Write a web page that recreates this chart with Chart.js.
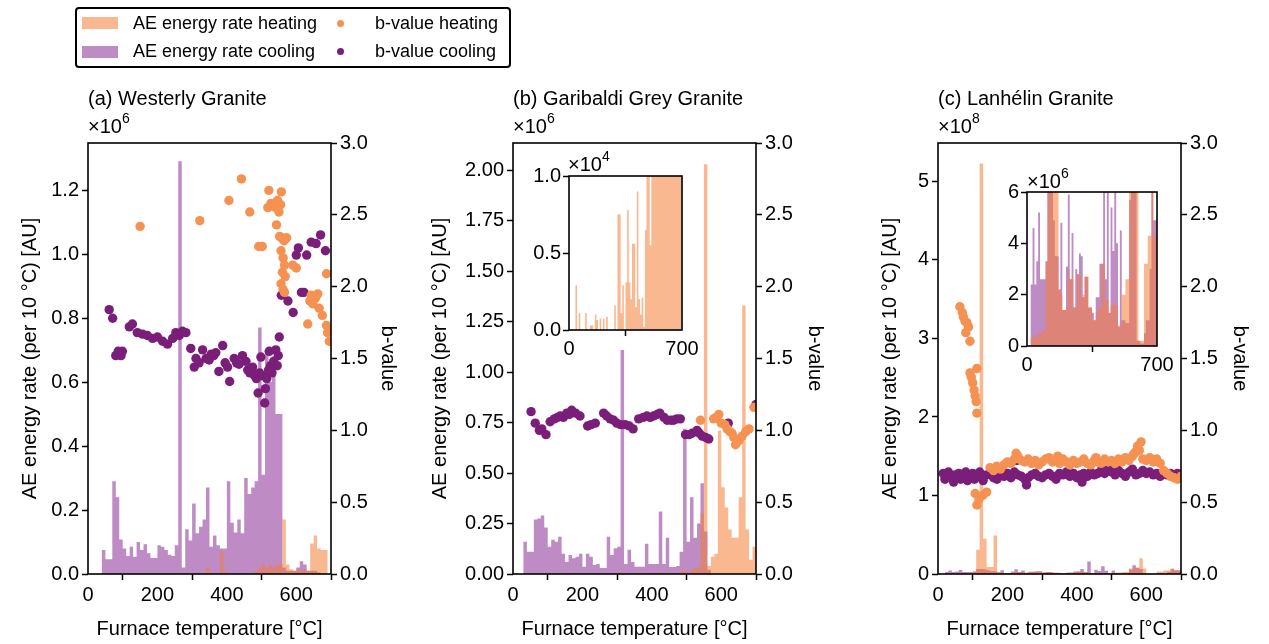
<!DOCTYPE html>
<html><head><meta charset="utf-8">
<script src="https://cdn.jsdelivr.net/npm/chart.js@4/dist/chart.umd.min.js"></script>
<style>
html,body{margin:0;padding:0;background:#fff;width:1269px;height:644px;overflow:hidden;font-family:"Liberation Sans",Arial,sans-serif;}
canvas{position:absolute;}
.t{position:absolute;white-space:nowrap;color:#000;font-size:20px;line-height:20px;}
.t sup{font-size:14px;line-height:0;position:relative;top:-2px;}
#legend{position:absolute;left:75px;top:7px;width:432px;height:57px;border:2px solid #000;border-radius:4px;}
.patch{position:absolute;width:36px;height:12px;}
.dot{position:absolute;width:7px;height:7px;border-radius:50%;}
.lt{position:absolute;white-space:nowrap;font-size:18px;line-height:18px;color:#000;}
</style></head><body>
<script>
// ---------- data ----------
const bins = Array.from({length:70},(_,i)=>i*10);          // histogram bin starts [°C], 10 °C wide
const xTicks = [0,200,400,600];
const insetXTicks = [0,700];
const bTicks = [0,0.5,1.0,1.5,2.0,2.5,3.0];

// (a) Westerly Granite, AE energy rate in units of 1e6 AU
const aCool = [0,0,0,0,0.075,0.046,0.046,0.29,0.24,0.108,
 0.08,0.056,0.085,0.054,0.10,0.075,0.093,0.065,0.05,0.05,
 0.09,0.085,0.075,0.06,0.056,0.09,1.29,0.02,0.14,0.105,
 0.22,0.127,0.148,0.17,0.27,0.085,0.12,0.09,0.08,0.08,
 0.29,0.16,0.13,0.17,0.127,0.30,0.25,0.27,0.29,0.77,
 0.31,0.70,0.60,0.68,0.50,0.50,0.02,0.01,0.01,0.01,
 0.02,0.04,0.03,0.01,0.01,0.01,0.005,0,0,0];
const aHeat = [0,0,0,0,0,0,0,0,0,0,
 0,0,0,0,0,0,0,0,0,0,
 0,0,0,0,0,0,0,0,0,0,
 0,0,0,0,0.02,0,0,0,0.07,0.01,
 0,0,0,0,0,0,0,0,0.01,0.02,
 0.03,0.02,0.03,0.02,0.03,0.03,0.17,0.03,0.015,0.01,
 0.015,0.01,0.015,0.01,0.095,0.12,0.08,0.075,0.075,0];
const aHeatT = [150,322,406,442,466,492,502,518,521,527,532,537,542,546,550,555,557,543,552,558,565,572,556,562,566,560,568,556,562,566,590,600,633,639,643,648,655,662,666,675,687,687,690,695,698];
const aHeatB = [2.42,2.46,2.60,2.75,2.52,2.28,2.28,2.55,2.67,2.58,2.56,2.58,2.55,2.60,2.52,2.57,2.66,2.43,2.35,2.34,2.32,2.34,2.25,2.20,2.15,2.10,2.07,2.02,1.98,1.96,2.15,2.13,1.74,1.90,1.94,1.88,1.92,1.95,1.85,1.80,2.09,1.73,1.68,1.62,1.70];
const aCoolT = [61,71,80,87,95,99,119,128,142,157,171,186,200,215,229,244,253,263,272,282,296,306,311,320,330,340,349,355,362,368,377,388,395,402,408,421,428,435,445,455,460,466,474,480,485,490,494,498,503,509,511,515,520,522,526,530,535,541,545,548,551,557,576,591,600,606,615,622,630,643,657,670,684];
const aCoolB = [1.84,1.78,1.52,1.55,1.52,1.55,1.72,1.74,1.68,1.67,1.66,1.64,1.65,1.62,1.60,1.64,1.68,1.66,1.69,1.68,1.57,1.44,1.50,1.47,1.56,1.50,1.49,1.53,1.52,1.54,1.41,1.59,1.47,1.44,1.34,1.50,1.47,1.46,1.52,1.48,1.42,1.40,1.44,1.38,1.36,1.26,1.40,1.51,1.38,1.19,1.29,1.36,1.42,1.55,1.45,1.40,1.48,1.56,1.45,1.52,1.65,1.94,1.90,1.82,2.22,2.27,1.96,1.96,2.22,2.31,2.30,2.36,2.25];

// (b) Garibaldi Grey Granite, units of 1e6 AU
const bCool = [0,0,0,0.16,0.11,0.11,0.27,0.275,0.29,0.23,
 0.135,0.17,0.16,0.185,0.10,0.06,0.094,0.078,0.086,0.10,
 0.036,0.10,0.086,0.045,0.05,0.03,0.03,0.185,0.094,0.127,
 0.135,1.11,0.05,0.12,0.06,0.036,0.036,0.036,0.15,0.05,
 0.05,0.05,0.31,0.05,0.18,0.035,0.035,0.04,0.11,0.72,
 0.16,0.38,0.18,0.25,0.45,0.21,0.02,0,0,0,
 0,0,0,0,0,0,0,0,0,0];
const bHeat = [0,0,0,0,0.0029,0,0.0011,0,0,0,
 0.0011,0,0,0.0003,0.0003,0,0.0010,0.00065,0,0.00075,
 0,0.00075,0,0.00086,0,0,0,0,0.0016,0,
 0.0075,0.0075,0.0011,0.0029,0,0.0031,0.0078,0.0031,0.0020,0.0056,
 0.0056,0.0015,0.0090,0.0020,0.0010,0.0021,0.0002,0.0065,0.012,0.015,
 0.0055,0.02,0.03,0.035,0.30,2.03,0.04,0.085,0.10,0.71,
 0.43,0.33,0.22,0.18,0.18,0.38,1.33,0.22,0.07,0.135];
const bCoolT = [52,64,76,83,95,107,119,128,136,145,155,162,169,180,193,215,225,237,261,270,280,290,299,310,323,335,346,362,375,386,395,405,415,423,435,444,455,463,472,482,497,507,516,530,537,545,555,564,620,700];
const bCoolB = [1.13,1.05,1.00,1.01,0.97,1.06,1.08,1.09,1.10,1.09,1.12,1.11,1.14,1.12,1.10,1.03,1.04,1.05,1.12,1.10,1.08,1.07,1.05,1.04,1.04,1.03,1.01,1.08,1.09,1.10,1.09,1.10,1.11,1.12,1.09,1.07,1.07,1.07,1.08,1.08,0.97,0.97,0.98,1.00,0.98,0.96,0.95,0.94,1.05,1.18];
const bHeatT = [540,578,585,593,600,610,617,625,631,636,641,646,651,660,670,680,694];
const bHeatB = [1.07,1.08,1.09,1.11,1.05,1.04,1.01,0.99,0.98,0.95,0.90,0.92,0.93,0.96,0.99,1.01,1.16];

// (c) Lanhélin Granite, units of 1e6 AU
const cHeat = [0,0,0.3,0.4,0.3,0.4,0.5,0.5,0.6,0.6,
 3.3,31,523,45,9,9,49,2.2,2.0,1.4,
 1.4,1.5,3.0,2.6,2.6,1.5,1.5,2.8,2.8,1.9,
 2.0,2.7,2.7,1.5,1.5,1.0,1.0,1.3,1.5,1.5,
 3.2,3.2,1.8,1.8,1.3,1.6,1.6,1.6,1.6,0.8,
 0.8,2.0,2.0,2.6,2.6,7,7,8,20,7,
 0.2,0.2,0.2,3.2,3.2,4.3,4.3,7,4.3,4.3];
const cCool = [0,0,2.4,4.6,2.4,3.3,5.2,2.6,2.6,2.6,
 3.3,6.5,6.5,6,4.9,3.5,3.5,2.2,4.8,1.4,
 1.4,3.1,5.9,2.6,4.4,1.5,3.0,2.8,3.6,3.5,
 1.9,2.7,2.7,1.5,1.5,1.3,1.0,1.9,1.9,3.2,
 3.2,6.5,2.6,16,1.3,5.4,3.7,10,4.0,0.75,
 4.5,1.0,1.0,0.9,0.9,5.7,11,8,6.5,0.2,
 0.2,0.1,0.1,0.5,1.0,1.0,3.0,6.5,4.9,4.9];
const cHeatT = [63,70,73,78,80,83,88,92,92,96,100,104,107,110,112,112,107,112,118,121,130,140,150,160,169,180,190,200,210,220,225,230,240,250,260,270,280,290,300,310,320,330,340,345,350,360,370,380,390,400,410,420,430,440,450,455,460,470,480,490,500,510,520,530,540,550,560,565,570,575,580,585,590,600,610,620,630,640,650,660,670,680,690,700];
const cHeatB = [1.86,1.82,1.79,1.76,1.68,1.75,1.72,1.62,1.40,1.37,1.33,1.28,1.24,1.20,1.12,1.43,0.56,0.48,0.52,0.54,0.55,0.57,0.74,0.72,0.75,0.73,0.76,0.78,0.77,0.80,0.84,0.82,0.79,0.78,0.80,0.77,0.79,0.76,0.78,0.80,0.81,0.78,0.79,0.82,0.77,0.80,0.78,0.76,0.79,0.77,0.78,0.80,0.77,0.76,0.79,0.81,0.78,0.77,0.80,0.78,0.79,0.77,0.80,0.78,0.81,0.79,0.82,0.84,0.85,0.89,0.86,0.92,0.80,0.79,0.81,0.78,0.80,0.77,0.72,0.70,0.68,0.67,0.66,0.68];
const cCoolT = [15,20,25,30,40,45,50,60,65,70,80,85,90,100,105,110,120,125,130,140,150,160,170,180,190,200,210,220,227,230,240,250,255,260,270,280,290,300,310,320,330,340,350,360,370,380,390,400,410,415,420,430,440,450,460,470,480,490,500,510,520,530,540,550,560,570,580,590,600,610,620,630,640,650,660,670,680,690,700];
const cCoolB = [0.70,0.66,0.68,0.71,0.67,0.64,0.69,0.70,0.66,0.68,0.71,0.65,0.67,0.70,0.66,0.68,0.71,0.67,0.65,0.69,0.70,0.67,0.66,0.69,0.68,0.70,0.67,0.71,0.79,0.69,0.68,0.66,0.62,0.67,0.69,0.70,0.68,0.67,0.69,0.70,0.68,0.66,0.70,0.69,0.71,0.68,0.70,0.67,0.69,0.64,0.70,0.68,0.71,0.69,0.70,0.72,0.70,0.73,0.71,0.69,0.72,0.70,0.68,0.71,0.73,0.69,0.70,0.72,0.70,0.71,0.69,0.70,0.68,0.71,0.69,0.70,0.68,0.70,0.69];

// ---------- style ----------
const HEAT_BAR = 'rgba(246,125,55,0.55)';
const COOL_BAR = 'rgba(137,43,150,0.55)';
const HEAT_DOT = 'rgb(245,146,82)';
const COOL_DOT = 'rgb(122,30,122)';
const FONT = "'Liberation Sans', Arial, sans-serif";
Chart.defaults.font.family = FONT;
Chart.defaults.font.size = 20;
Chart.defaults.color = '#000';
Chart.defaults.animation = false;

const framePlugin = {
  id:'frame',
  beforeDraw(chart){
    if(!chart.options.plugins.frame || !chart.options.plugins.frame.bg) return;
    const a = chart.chartArea, ctx = chart.ctx;
    ctx.save(); ctx.fillStyle='#fff'; ctx.fillRect(a.left,a.top,a.right-a.left,a.bottom-a.top); ctx.restore();
  },
  afterDraw(chart){
    const a = chart.chartArea, ctx = chart.ctx;
    ctx.save(); ctx.strokeStyle='#000'; ctx.lineWidth=1.6;
    ctx.strokeRect(a.left,a.top,a.right-a.left,a.bottom-a.top); ctx.restore();
  }
};

function makeCanvas(left, top, w, h){
  const c = document.createElement('canvas');
  c.width=w; c.height=h;
  c.style.left=left+'px'; c.style.top=top+'px'; c.style.width=w+'px'; c.style.height=h+'px';
  document.body.appendChild(c); return c;
}
// histogram as a step-filled series: each value holds over its 10 °C bin
const histOf = vals => bins.map((b,i)=>({x:b, y:vals[i]*1e6})).concat([{x:700, y:vals[vals.length-1]*1e6}]);
const ptsOf = (T,B) => T.map((t,i)=>({x:t, y:B[i]}));
const gridOpt = {drawOnChartArea:false, drawTicks:true, tickLength:6, tickWidth:1.5, tickColor:'#000'};
const setTicks = arr => s => { s.ticks = arr.map(v=>({value:v})); };

function histDs(label, vals, color, order){
  return {type:'line', label, data:histOf(vals), stepped:'before', fill:'origin',
    backgroundColor:color, borderColor:'rgba(0,0,0,0)', borderWidth:0, pointRadius:0,
    order, yAxisID:'y', xAxisID:'x'};
}
function dotDs(label, T, B, color){
  return {type:'scatter', label, data:ptsOf(T,B), backgroundColor:color, borderWidth:0,
    pointRadius:4.7, pointBorderWidth:0, order:1, yAxisID:'yb', xAxisID:'x'};
}

function panel(o){
  const area = {l:o.l, r:o.r, t:143, b:574};
  const cv = makeCanvas(o.cl, 0, o.cw, 644);
  const axLeft = o.yTitleX - 12, axRight = o.bTitleX + 12;
  new Chart(cv, {
    type:'bar',
    data:{datasets:[
      dotDs('b-value heating', o.hT, o.hB, HEAT_DOT),
      dotDs('b-value cooling', o.cT, o.cB, COOL_DOT),
      histDs('AE energy rate heating', o.heat, HEAT_BAR, 2),
      histDs('AE energy rate cooling', o.cool, COOL_BAR, 3)
    ]},
    options:{
      responsive:false, animation:false,
      layout:{padding:{left:axLeft-o.cl, right:o.cl+o.cw-axRight, top:area.t, bottom:0}},
      plugins:{legend:{display:false}, tooltip:{enabled:false}, frame:{bg:false}},
      scales:{
        x:{type:'linear', min:0, max:700, offset:false, afterBuildTicks:setTicks(xTicks),
           afterFit:s=>{s.height=644-area.b;}, grid:gridOpt, border:{display:false},
           ticks:{padding:3, maxRotation:0, callback:v=>String(v)},
           title:{display:true, text:'Furnace temperature [°C]', font:{size:20}, padding:{top:0,bottom:3}}},
        y:{type:'linear', position:'left', min:0, max:o.yMax*1e6, afterBuildTicks:setTicks(o.yTicks.map(v=>v*1e6)),
           afterFit:s=>{s.width=area.l-axLeft;}, grid:gridOpt, border:{display:false},
           ticks:{padding:3, callback:v=>(v/o.unit).toFixed(o.dec)},
           title:{display:true, text:'AE energy rate (per 10 °C) [AU]', font:{size:20}, padding:{top:0,bottom:0}}},
        yb:{type:'linear', position:'right', min:0, max:3, afterBuildTicks:setTicks(bTicks),
           afterFit:s=>{s.width=axRight-area.r;}, grid:gridOpt, border:{display:false},
           ticks:{padding:3, callback:v=>v.toFixed(1)},
           title:{display:true, text:'b-value', font:{size:20}, padding:{top:0,bottom:0}}}
      }
    },
    plugins:[framePlugin]
  });
}

function inset(o){
  const cv = makeCanvas(o.cl, o.ct, o.cw, o.ch);
  const ds = [];
  if(o.heat) ds.push(histDs('heating', o.heat, HEAT_BAR, 2));
  if(o.cool) ds.push(histDs('cooling', o.cool, COOL_BAR, 3));
  new Chart(cv, {
    type:'bar',
    data:{datasets:ds},
    options:{
      responsive:false, animation:false,
      layout:{padding:{left:0, right:o.cl+o.cw-o.r, top:o.t-o.ct, bottom:0}},
      plugins:{legend:{display:false}, tooltip:{enabled:false}, frame:{bg:true}},
      scales:{
        x:{type:'linear', min:0, max:700, offset:false, afterBuildTicks:setTicks(insetXTicks),
           afterFit:s=>{s.height=o.ct+o.ch-o.b;}, grid:gridOpt, border:{display:false},
           ticks:{padding:1, maxRotation:0, callback:v=>String(v)}},
        y:{type:'linear', position:'left', min:0, max:o.yMax, afterBuildTicks:setTicks(o.yTicks),
           afterFit:s=>{s.width=o.l-o.cl;}, grid:gridOpt, border:{display:false},
           ticks:{padding:2, callback:v=>(v/o.unit).toFixed(o.dec)}}
      }
    },
    plugins:[framePlugin]
  });
}

panel({cl:0, cw:420, l:88, r:331, yTitleX:30, bTitleX:388, yMax:1.347, yTicks:[0,0.2,0.4,0.6,0.8,1.0,1.2], unit:1e6, dec:1,
  heat:aHeat, cool:aCool, hT:aHeatT, hB:aHeatB, cT:aCoolT, cB:aCoolB});
panel({cl:420, cw:430, l:513, r:756, yTitleX:440, bTitleX:815, yMax:2.135, yTicks:[0,0.25,0.5,0.75,1.0,1.25,1.5,1.75,2.0], unit:1e6, dec:2,
  heat:bHeat, cool:bCool, hT:bHeatT, hB:bHeatB, cT:bCoolT, cB:bCoolB});
panel({cl:850, cw:419, l:938, r:1181, yTitleX:890, bTitleX:1240, yMax:549, yTicks:[0,100,200,300,400,500], unit:1e8, dec:0,
  heat:cHeat, cool:cCool, hT:cHeatT, hB:cHeatB, cT:cCoolT, cB:cCoolB});

inset({cl:515, ct:150, cw:200, ch:215, l:569, r:682, t:176, b:330, yMax:1e4, yTicks:[0,5e3,1e4], unit:1e4, dec:1, heat:bHeat});
inset({cl:990, ct:160, cw:200, ch:220, l:1027, r:1157, t:192, b:346, yMax:6e6, yTicks:[0,2e6,4e6,6e6], unit:1e6, dec:0, heat:cHeat, cool:cCool});
</script>

<div class="t" style="left:88px;top:88px;">(a) Westerly Granite</div>
<div class="t" style="left:513px;top:88px;">(b) Garibaldi Grey Granite</div>
<div class="t" style="left:938px;top:88px;">(c) Lanhélin Granite</div>
<div class="t" style="left:88px;top:116px;">×10<sup>6</sup></div>
<div class="t" style="left:513px;top:116px;">×10<sup>6</sup></div>
<div class="t" style="left:938px;top:116px;">×10<sup>8</sup></div>
<div class="t" style="left:568px;top:154px;">×10<sup>4</sup></div>
<div class="t" style="left:1027px;top:171px;">×10<sup>6</sup></div>

<div id="legend"></div>
<div class="patch" style="left:82px;top:17px;background:rgba(246,125,55,0.55);"></div>
<div class="lt" style="left:133px;top:14px;">AE energy rate heating</div>
<div class="dot" style="left:337px;top:20px;background:rgb(245,146,82);"></div>
<div class="lt" style="left:375px;top:14px;">b-value heating</div>
<div class="patch" style="left:82px;top:46px;background:rgba(137,43,150,0.55);"></div>
<div class="lt" style="left:133px;top:42px;">AE energy rate cooling</div>
<div class="dot" style="left:337px;top:48px;background:rgb(122,30,122);"></div>
<div class="lt" style="left:375px;top:42px;">b-value cooling</div>
</body></html>
